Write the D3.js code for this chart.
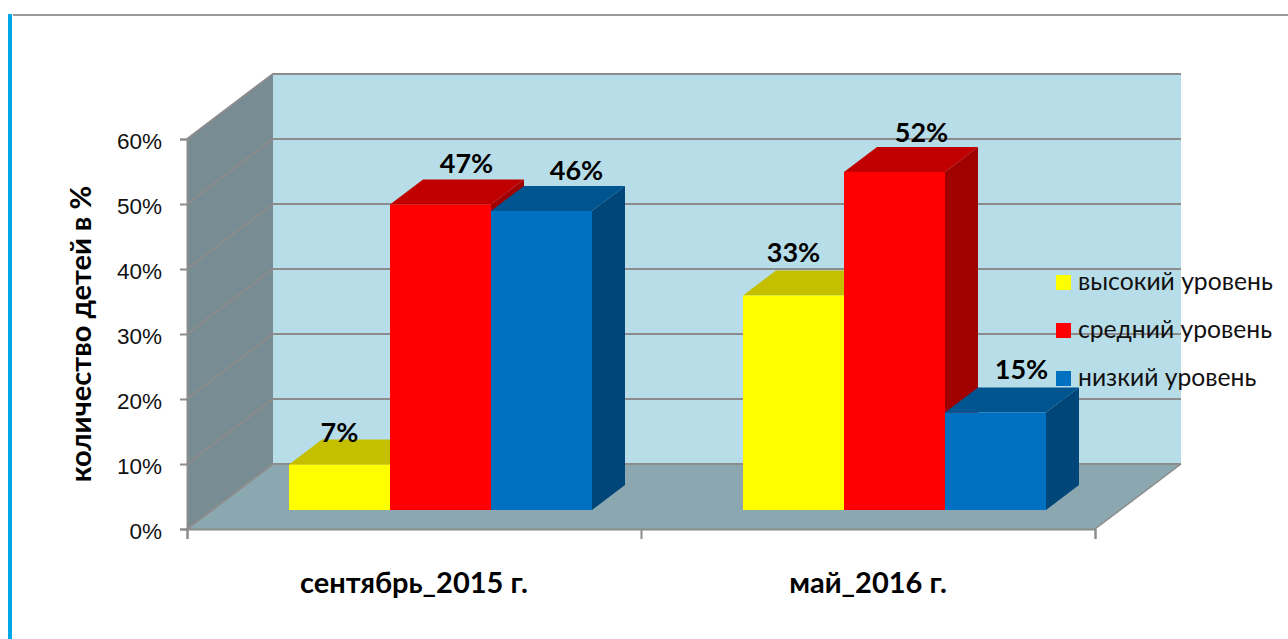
<!DOCTYPE html>
<html>
<head>
<meta charset="utf-8">
<script src="https://cdn.jsdelivr.net/npm/d3@7"></script>
<style>
  html, body { margin: 0; padding: 0; background: #fff; }
  svg { display: block; font-family: Lato, "Open Sans", sans-serif; }
</style>
</head>
<body>
<div id="chart"></div>
<script>
const categories = ["сентябрь_2015 г.", "май_2016 г."];
const seriesNames = ["высокий уровень", "средний уровень", "низкий уровень"];
const highLevel = [7, 33];
const midLevel = [47, 52];
const lowLevel = [46, 15];
const yTicks = [0, 10, 20, 30, 40, 50, 60];

const values = [highLevel, midLevel, lowLevel];

// front, top and side shades for each series
const shades = [
  {front: "#ffff00", top: "#c4c000", side: "#a8a400"},
  {front: "#ff0000", top: "#c00000", side: "#a00000"},
  {front: "#0070c0", top: "#005490", side: "#004678"}
];

// Labels were moved by hand in the original, offsets from bar front centre
const labelDx = [[0, 26, 35], [0, 27, 26]];
const labelDy = [[-23, -32, -31], [-34, -30, -34]];

const width = 1288, height = 639;
const plot = {left: 187, right: 1095, bottom: 529, top: 139};
// Depth of the 3d box and of the bars in it
const wallDx = 86, wallDy = -65;
const barDx = 33, barDy = -25;
const barInsetDx = 26.5, barInsetDy = -19;
const barWidth = 101;

const svg = d3.select("#chart").append("svg")
  .attr("width", width)
  .attr("height", height)
  .attr("viewBox", [0, 0, width, height]);

const y = d3.scaleLinear().domain([0, 60]).range([plot.bottom, plot.top]);
const x = d3.scaleBand().domain(categories).range([plot.left, plot.right]);
const xEdges = d3.scaleLinear().domain([0, categories.length]).range([plot.left, plot.right]);
const xSeries = d3.scaleBand().domain(seriesNames).range([0, barWidth * seriesNames.length]);

const poly = pts => d3.line()(pts) + "Z";
const GREY = "#8c8c8c";

// Slide border
svg.append("line").attr("x1", 13).attr("x2", width).attr("y1", 15).attr("y2", 15)
  .attr("stroke", "#999").attr("stroke-width", 2);
svg.append("rect").attr("x", 8).attr("y", 14).attr("width", 4).attr("height", height - 14)
  .attr("fill", "#00a8e8");

// Walls
const y0 = y(0), y60 = y(60);
svg.append("path")
  .attr("d", poly([[plot.left + wallDx, y60 + wallDy], [plot.right + wallDx, y60 + wallDy], [plot.right + wallDx, y0 + wallDy], [plot.left + wallDx, y0 + wallDy]]))
  .attr("fill", "#b7dde8");
svg.append("path")
  .attr("d", poly([[plot.left, y60], [plot.left + wallDx, y60 + wallDy], [plot.left + wallDx, y0 + wallDy], [plot.left, y0]]))
  .attr("fill", "#778c93");
svg.append("path")
  .attr("d", poly([[plot.left, y0], [plot.left + wallDx, y0 + wallDy], [plot.right + wallDx, y0 + wallDy], [plot.right, y0]]))
  .attr("fill", "#8ba8b0");

// Gridlines run along the left wall and then the back wall
svg.append("g")
  .attr("fill", "none")
  .attr("stroke", GREY)
  .attr("stroke-width", 2)
  .selectAll("path")
  .data(yTicks)
  .join("path")
  .attr("d", d => d3.line()([[plot.left, y(d)], [plot.left + wallDx, y(d) + wallDy], [plot.right + wallDx, y(d) + wallDy]]));
svg.append("path")
  .attr("d", d3.line()([[plot.right, y0], [plot.right + wallDx, y0 + wallDy]]))
  .attr("fill", "none").attr("stroke", GREY).attr("stroke-width", 1.5);

// Axes
svg.append("g")
  .attr("transform", `translate(${plot.left},0)`)
  .call(d3.axisLeft(y).tickValues(yTicks).tickSize(7).tickPadding(18).tickFormat(d => d + "%"))
  .call(g => g.selectAll("line,path").attr("stroke", GREY).attr("stroke-width", 2))
  .call(g => g.selectAll("text").attr("font-size", 22.5).attr("dy", "0.42em").attr("fill", "#111").attr("font-family", "inherit"));
svg.append("g")
  .attr("transform", `translate(0,${plot.bottom})`)
  .call(d3.axisBottom(xEdges).ticks(categories.length).tickSize(10).tickFormat(""))
  .call(g => g.selectAll("line,path").attr("stroke", GREY).attr("stroke-width", 2));

svg.append("g")
  .selectAll("text")
  .data(categories)
  .join("text")
  .attr("x", d => x(d) + x.bandwidth() / 2)
  .attr("y", 593)
  .attr("text-anchor", "middle")
  .attr("font-size", 29)
  .attr("font-weight", "bold")
  .attr("fill", "#000")
  .text(d => d);

svg.append("text")
  .attr("transform", "translate(91,334) rotate(-90)")
  .attr("text-anchor", "middle")
  .attr("font-size", 29)
  .attr("font-weight", "bold")
  .attr("fill", "#000")
  .text("количество детей в %");

// Bars, drawn left to right so each one covers the side of the previous one
const barBase = y0 + barInsetDy;
const barGroups = svg.append("g")
  .selectAll("g")
  .data(categories)
  .join("g")
  .attr("transform", d => `translate(${x(d) + (x.bandwidth() - barWidth * seriesNames.length) / 2 + barInsetDx},0)`);

barGroups.each(function(cat, ci) {
  const g = d3.select(this);
  seriesNames.forEach((name, si) => {
    const x0 = xSeries(name), x1 = x0 + xSeries.bandwidth();
    const top = barBase - (y0 - y(values[si][ci]));
    const c = shades[si];
    g.append("path")
      .attr("d", poly([[x1, top], [x1 + barDx, top + barDy], [x1 + barDx, barBase + barDy], [x1, barBase]]))
      .attr("fill", c.side);
    g.append("path")
      .attr("d", poly([[x0, top], [x0 + barDx, top + barDy], [x1 + barDx, top + barDy], [x1, top]]))
      .attr("fill", c.top);
    g.append("rect")
      .attr("x", x0).attr("y", top)
      .attr("width", xSeries.bandwidth()).attr("height", barBase - top)
      .attr("fill", c.front);
  });
});

// Data labels go on top of all bars
barGroups.each(function(cat, ci) {
  const g = d3.select(this);
  seriesNames.forEach((name, si) => {
    const top = barBase - (y0 - y(values[si][ci]));
    g.append("text")
      .attr("x", xSeries(name) + xSeries.bandwidth() / 2 + labelDx[ci][si])
      .attr("y", top + labelDy[ci][si])
      .attr("text-anchor", "middle")
      .attr("font-size", 27)
      .attr("font-weight", "bold")
      .attr("fill", "#000")
      .text(values[si][ci] + "%");
  });
});

// Legend
const legend = svg.append("g")
  .selectAll("g")
  .data(seriesNames)
  .join("g")
  .attr("transform", (d, i) => `translate(1056,${275 + i * 48})`);
legend.append("rect")
  .attr("width", 15).attr("height", 15)
  .attr("fill", (d, i) => shades[i].front);
legend.append("text")
  .attr("x", 22).attr("y", 15)
  .attr("font-size", 24.7)
  .attr("fill", "#111")
  .text(d => d);
</script>
</body>
</html>
